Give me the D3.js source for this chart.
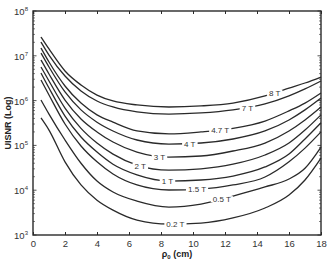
<!DOCTYPE html>
<html>
<head>
<meta charset="utf-8">
<script src="https://cdn.jsdelivr.net/npm/d3@7"></script>
<style>
  body { margin: 0; background: #fff; }
  svg { font-family: "Liberation Sans", Arial, sans-serif; }
</style>
</head>
<body>
<div id="chart"></div>
<script>
// raggio rho0 (cm) dei punti
const rho = [0.5, 1, 2, 3, 4, 5, 6.5, 8.5, 10.5, 12.5, 14.5, 16, 17, 18];

// UISNR per ogni campo (T), stesso ordine di rho
const snr8T   = [2.63e7, 1.42e7, 4.58e6, 2.23e6, 1.33e6, 9.8e5, 8.0e5, 7.2e5, 7.6e5, 8.8e5, 1.27e6, 1.91e6, 2.47e6, 3.36e6];
const snr7T   = [2.03e7, 1.04e7, 3.54e6, 1.64e6, 9.8e5, 7.2e5, 5.6e5, 5.0e5, 5.3e5, 6.2e5, 8.4e5, 1.27e6, 1.82e6, 2.74e6];
const snr47T  = [1.49e7, 7.27e6, 2.12e6, 8.8e5, 4.8e5, 3.3e5, 2.1e5, 1.8e5, 2.0e5, 2.4e5, 3.5e5, 5.9e5, 8.8e5, 1.48e6];
const snr4T   = [1.15e7, 5.62e6, 1.56e6, 6.2e5, 3.3e5, 2.1e5, 1.32e5, 1.07e5, 1.13e5, 1.39e5, 2.1e5, 3.7e5, 6.2e5, 1.14e6];
const snr3T   = [8.06e6, 3.93e6, 1.03e6, 3.9e5, 2.0e5, 1.19e5, 7.1e4, 5.5e4, 5.8e4, 7.5e4, 1.13e5, 2.1e5, 3.7e5, 7.2e5];
const snr2T   = [5.62e6, 2.74e6, 6.8e5, 2.4e5, 1.13e5, 6.4e4, 3.65e4, 2.8e4, 3.0e4, 3.8e4, 6.1e4, 1.13e5, 2.2e5, 4.8e5];
const snr1T   = [4.13e6, 1.91e6, 4.5e5, 1.54e5, 7.1e4, 3.8e4, 2.2e4, 1.6e4, 1.69e4, 2.07e4, 3.3e4, 6.4e4, 1.39e5, 3.2e5];
const snr15T  = [2.88e6, 1.33e6, 3.0e5, 9.7e4, 4.3e4, 2.3e4, 1.31e4, 1.01e4, 1.06e4, 1.31e4, 1.97e4, 4.3e4, 8.7e4, 2.0e5];
const snr05T  = [1.03e6, 5.0e5, 1.32e5, 4.0e4, 1.6e4, 9.1e3, 5.7e3, 4.2e3, 4.9e3, 7.4e3, 1.18e4, 1.78e4, 3.1e4, 9.2e4];
const snr02T  = [4.1e5, 2.2e5, 4.3e4, 1.31e4, 6.0e3, 3.6e3, 2.16e3, 1.76e3, 1.85e3, 2.4e3, 4.0e3, 7.8e3, 1.69e4, 5.2e4];

// etichette in linea (come clabel di matlab) e il rho dove stanno
const fieldLabels = ['8 T', '7 T', '4.7 T', '4 T', '3 T', '2 T', '1 T', '1.5 T', '0.5 T', '0.2 T'];
const labelRho    = [15.1, 13.4, 11.7, 9.8, 7.9, 6.7, 8.4, 10.25, 11.8, 8.9];
const allSeries   = [snr8T, snr7T, snr47T, snr4T, snr3T, snr2T, snr1T, snr15T, snr05T, snr02T];

// tick
const xTicks = [0, 2, 4, 6, 8, 10, 12, 14, 16, 18];
const yExp   = [3, 4, 5, 6, 7, 8];

const width = 330, height = 259;
const margin = { top: 11, right: 9, bottom: 24, left: 33 };
const w = width - margin.left - margin.right;
const h = height - margin.top - margin.bottom;
const ink = '#2a2a2a';

const svg = d3.select('#chart').append('svg')
    .attr('width', width)
    .attr('height', height);

const g = svg.append('g')
    .attr('transform', `translate(${margin.left},${margin.top})`);

const x = d3.scaleLinear().domain([0, 18]).range([0, w]);
const y = d3.scaleLog().domain([1e3, 1e8]).range([h, 0]);

// tick x dentro il box, sotto e sopra
g.append('g')
    .attr('transform', `translate(0,${h})`)
    .call(d3.axisBottom(x).tickValues(xTicks).tickSizeInner(-3).tickSizeOuter(0).tickPadding(5))
    .call(a => a.select('.domain').remove())
    .call(a => a.selectAll('line').attr('stroke', ink))
    .call(a => a.selectAll('text').attr('fill', '#333').style('font-size', '9.5px'));

g.append('g')
    .call(d3.axisTop(x).tickValues(xTicks).tickSizeInner(-3).tickSizeOuter(0).tickFormat(''))
    .call(a => a.select('.domain').remove())
    .call(a => a.selectAll('line').attr('stroke', ink));

// tick y logaritmici: maggiori alle decadi, minori 2..9
const majors = yExp.map(e => Math.pow(10, e));
const minors = y.ticks().filter(t => !majors.some(m => Math.abs(m - t) / m < 1e-9));

[[0, 1], [w, -1]].forEach(([x0, dir]) => {
    g.selectAll(null).data(majors).join('line')
        .attr('x1', x0).attr('x2', x0 + dir * 3.5)
        .attr('y1', d => y(d)).attr('y2', d => y(d))
        .attr('stroke', ink).attr('stroke-width', 0.8);
    g.selectAll(null).data(minors).join('line')
        .attr('x1', x0).attr('x2', x0 + dir * 2)
        .attr('y1', d => y(d)).attr('y2', d => y(d))
        .attr('stroke', ink).attr('stroke-width', 0.6);
});

// etichette 10^n
const yl = g.selectAll('.ylab').data(yExp).join('text')
    .attr('class', 'ylab')
    .attr('x', -5)
    .attr('y', e => y(Math.pow(10, e)) + 4)
    .attr('text-anchor', 'end')
    .attr('fill', '#333')
    .style('font-size', '9.5px');
yl.append('tspan').text('10');
yl.append('tspan').attr('dy', -4).style('font-size', '6px').text(e => e);

// curve: monotone su scala log
const lineGen = d3.line()
    .x(d => x(d[0]))
    .y(d => y(d[1]))
    .curve(d3.curveMonotoneX);

const paths = allSeries.map(s => g.append('path')
    .datum(rho.map((r, i) => [r, s[i]]))
    .attr('fill', 'none')
    .attr('stroke', ink)
    .attr('stroke-width', 1.3)
    .attr('d', lineGen));

// trova la y del path per una x data (ricerca binaria sulla lunghezza)
function yOnPath(node, px) {
    let lo = 0, hi = node.getTotalLength();
    for (let k = 0; k < 40; k++) {
        const mid = (lo + hi) / 2;
        if (node.getPointAtLength(mid).x < px) lo = mid; else hi = mid;
    }
    return node.getPointAtLength(lo).y;
}

// etichette con sfondo bianco che interrompe la linea
fieldLabels.forEach((lab, i) => {
    const px = x(labelRho[i]);
    const py = yOnPath(paths[i].node(), px);
    const gl = g.append('g');
    const t = gl.append('text')
        .attr('x', px).attr('y', py + 3)
        .attr('text-anchor', 'middle')
        .attr('fill', '#333')
        .style('font-size', '8px')
        .text(lab);
    const bb = t.node().getBBox();
    gl.insert('rect', 'text')
        .attr('x', bb.x - 2).attr('y', py - 3)
        .attr('width', bb.width + 4).attr('height', 6)
        .attr('fill', '#fff');
});

// box del grafico
g.append('rect')
    .attr('width', w).attr('height', h)
    .attr('fill', 'none')
    .attr('stroke', ink)
    .attr('stroke-width', 1.4);

// titoli assi
svg.append('text')
    .attr('transform', `translate(11,${margin.top + 112}) rotate(-90)`)
    .attr('text-anchor', 'middle')
    .attr('fill', '#222')
    .style('font-size', '9px')
    .style('font-weight', 'bold')
    .text('UISNR (Log)');

const xl = svg.append('text')
    .attr('x', margin.left + w / 2)
    .attr('y', 257)
    .attr('text-anchor', 'middle')
    .attr('fill', '#222')
    .style('font-size', '9px')
    .style('font-weight', 'bold');
xl.append('tspan').text('ρ');
xl.append('tspan').attr('dy', 2).style('font-size', '6px').text('0');
xl.append('tspan').attr('dy', -2).text(' (cm)');
</script>
</body>
</html>
